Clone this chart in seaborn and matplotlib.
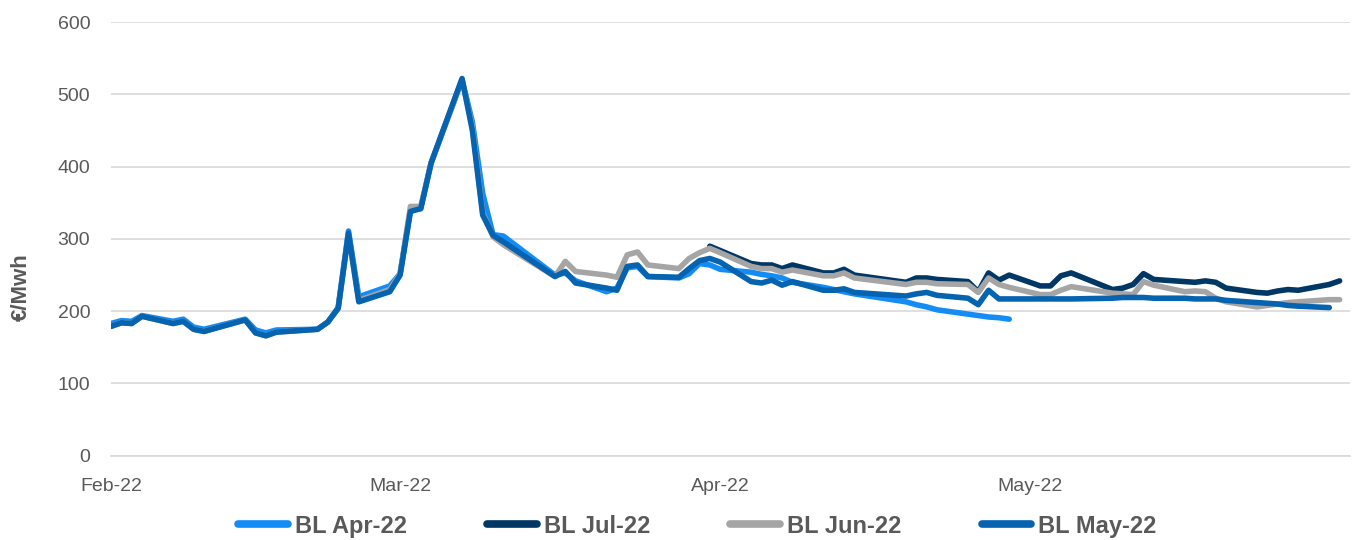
import matplotlib
matplotlib.use("Agg")
import matplotlib.pyplot as plt
import matplotlib.dates as mdates
import seaborn as sns
import pandas as pd
import numpy as np

# --- data (EUR/MWh) ---
apr_dates = ["2022-02-01", "2022-02-02", "2022-02-03", "2022-02-04", "2022-02-07", "2022-02-08",
             "2022-02-09", "2022-02-10", "2022-02-14", "2022-02-15", "2022-02-16", "2022-02-17",
             "2022-02-21", "2022-02-22", "2022-02-23", "2022-02-24", "2022-02-25", "2022-02-28",
             "2022-03-01", "2022-03-02", "2022-03-03", "2022-03-04", "2022-03-07", "2022-03-08",
             "2022-03-09", "2022-03-10", "2022-03-11", "2022-03-16", "2022-03-17", "2022-03-18",
             "2022-03-21", "2022-03-22", "2022-03-23", "2022-03-24", "2022-03-25", "2022-03-28",
             "2022-03-29", "2022-03-30", "2022-03-31", "2022-04-01", "2022-04-04", "2022-04-05",
             "2022-04-06", "2022-04-07", "2022-04-08", "2022-04-11", "2022-04-12", "2022-04-13",
             "2022-04-14", "2022-04-19", "2022-04-20", "2022-04-21", "2022-04-22", "2022-04-25",
             "2022-04-26", "2022-04-27", "2022-04-28", "2022-04-29"]
apr_vals = [183, 187, 186, 194, 186, 189, 178, 175, 189, 174, 170, 174,
            175, 185, 205, 311, 220, 235, 252, 340, 342, 405, 520, 462,
            363, 306, 304, 250, 253, 242, 227, 232, 260, 262, 248, 246,
            252, 266, 264, 258, 254, 251, 249, 246, 240, 233, 230, 227,
            224, 213, 209, 206, 202, 196, 194, 192, 191, 189]

may_dates = apr_dates[:-1] + ["2022-04-29", "2022-05-02", "2022-05-03", "2022-05-04", "2022-05-05",
                              "2022-05-09", "2022-05-10", "2022-05-11", "2022-05-12", "2022-05-13",
                              "2022-05-16", "2022-05-17", "2022-05-18", "2022-05-19", "2022-05-20",
                              "2022-05-23", "2022-05-24", "2022-05-25", "2022-05-26", "2022-05-27",
                              "2022-05-30"]
may_vals = [179, 184, 183, 193, 183, 186, 175, 172, 188, 170, 166, 171,
            175, 185, 204, 308, 213, 227, 250, 338, 342, 405, 522, 450,
            333, 305, 296, 248, 255, 239, 232, 229, 262, 264, 248, 247,
            259, 270, 273, 268, 241, 239, 243, 236, 241, 229, 229, 231,
            226, 221, 224, 226, 222, 218, 209, 229, 217,
            217, 217, 217, 217, 217,
            218, 219, 219, 219, 218,
            218, 217, 217, 217, 215,
            212, 211, 210, 208, 207,
            205]

jun_dates = may_dates + ["2022-05-31"]
jun_vals = [179, 184, 183, 193, 183, 186, 175, 172, 188, 170, 166, 171,
            175, 185, 204, 306, 215, 230, 252, 345, 345, 405, 520, 455,
            336, 303, 292, 248, 269, 255, 250, 247, 278, 282, 264, 259,
            273, 281, 287, 281, 262, 259, 259, 254, 257, 249, 249, 253,
            246, 237, 240, 240, 238, 237, 226, 246, 237, 233,
            223, 223, 229, 234,
            225, 224, 223, 241, 236,
            227, 228, 227, 218, 213,
            206, 208, 210, 212, 213,
            216, 216]

jul_dates = ["2022-03-31", "2022-04-01", "2022-04-04", "2022-04-05", "2022-04-06", "2022-04-07",
             "2022-04-08", "2022-04-11", "2022-04-12", "2022-04-13", "2022-04-14", "2022-04-19",
             "2022-04-20", "2022-04-21", "2022-04-22", "2022-04-25", "2022-04-26", "2022-04-27",
             "2022-04-28", "2022-04-29", "2022-05-02", "2022-05-03", "2022-05-04", "2022-05-05",
             "2022-05-09", "2022-05-10", "2022-05-11", "2022-05-12", "2022-05-13", "2022-05-16",
             "2022-05-17", "2022-05-18", "2022-05-19", "2022-05-20", "2022-05-23", "2022-05-24",
             "2022-05-25", "2022-05-26", "2022-05-27", "2022-05-30", "2022-05-31"]
jul_vals = [290, 284, 266, 264, 264, 259, 264, 253, 253, 258, 250, 240,
            246, 246, 244, 241, 227, 253, 243, 250, 235, 235, 249, 253,
            230, 232, 237, 252, 244, 241, 240, 242, 240, 232, 226, 225,
            228, 230, 229, 237, 242]

series_names = ["BL Apr-22", "BL Jul-22", "BL Jun-22", "BL May-22"]
colors = {"BL Apr-22": "#148CF5", "BL Jul-22": "#003764",
          "BL Jun-22": "#A5A5A5", "BL May-22": "#0563B0"}

frames = []
for name, d, v in [("BL Apr-22", apr_dates, apr_vals), ("BL Jul-22", jul_dates, jul_vals),
                   ("BL Jun-22", jun_dates, jun_vals), ("BL May-22", may_dates, may_vals)]:
    frames.append(pd.DataFrame({"date": pd.to_datetime(d), "value": v, "series": name}))
df = pd.concat(frames, ignore_index=True)

sns.set_style("white")
plt.rcParams["font.family"] = ["Liberation Sans", "DejaVu Sans"]

fig = plt.figure(figsize=(13.54, 5.40), dpi=100)
ax = fig.add_axes([0.082, 0.156, 0.915, 0.803])

sns.lineplot(data=df, x="date", y="value", hue="series", hue_order=series_names,
             palette=colors, linewidth=4.0, ax=ax, legend=False, sort=True,
             estimator=None)
for ln in ax.lines:
    ln.set_solid_joinstyle("round")
    ln.set_solid_capstyle("round")

ax.set_ylim(0, 600)
ax.set_yticks(range(0, 601, 100))
ax.set_xlim(pd.Timestamp("2022-02-01"), pd.Timestamp("2022-06-01"))
ax.set_xticks(pd.to_datetime(["2022-02-01", "2022-03-01", "2022-04-01", "2022-05-01"]))
ax.xaxis.set_major_formatter(mdates.DateFormatter("%b-%y"))

ax.grid(axis="y", color="#D9D9D9", linewidth=1.2)
ax.set_axisbelow(True)
for s in ["top", "right", "left"]:
    ax.spines[s].set_visible(False)
ax.spines["bottom"].set_color("#D9D9D9")
ax.spines["bottom"].set_linewidth(1.2)
ax.tick_params(axis="x", colors="#595959", labelsize=14, length=5, width=1.2,
               color="#D9D9D9", pad=11)
ax.tick_params(axis="y", colors="#595959", labelsize=14, length=0, pad=15)
ax.set_xlabel("")
ax.set_ylabel("€/Mwh", fontsize=16, fontweight="bold", color="#595959")
ax.yaxis.set_label_coords(-0.064, 0.39)

handles = [plt.Line2D([0], [0], color=colors[n], linewidth=5.5, solid_capstyle="round")
           for n in series_names]
fig.legend(handles, series_names, loc="lower center", bbox_to_anchor=(0.515, -0.035),
           ncol=4, frameon=False, handlelength=2.1, columnspacing=3.4, handletextpad=0.3,
           prop={"size": 17, "weight": "bold"}, labelcolor="#595959")

fig.savefig("out.png", dpi=100)
